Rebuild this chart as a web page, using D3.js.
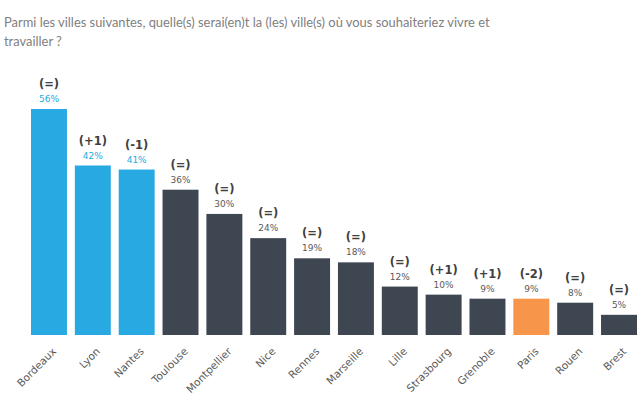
<!DOCTYPE html>
<meta charset="UTF-8">
<html>
<head>
<script src="https://d3js.org/d3.v7.min.js"></script>
<style>
body { margin: 0; background: #fff; }
.Title { fill: #808080; font: 12.9px Lato, sans-serif; }
.Change { fill: #404040; font: bold 11.5px "DejaVu Sans", sans-serif; }
.Pct { font: 9px "DejaVu Sans", sans-serif; }
.XLabel { fill: #595959; font: 10.5px "DejaVu Sans", sans-serif; }
</style>
</head>
<body>
<svg class="Chart"></svg>
<script>
var Cities = ["Bordeaux", "Lyon", "Nantes", "Toulouse", "Montpellier", "Nice", "Rennes", "Marseille", "Lille", "Strasbourg", "Grenoble", "Paris", "Rouen", "Brest"];
var Values = [56, 42, 41, 36, 30, 24, 19, 18, 12, 10, 9, 9, 8, 5];
var Changes = ["(=)", "(+1)", "(-1)", "(=)", "(=)", "(=)", "(=)", "(=)", "(=)", "(+1)", "(+1)", "(-2)", "(=)", "(=)"];
var Groups = ["top", "top", "top", "other", "other", "other", "other", "other", "other", "other", "other", "paris", "other", "other"];

var Width = 641, Height = 406;
var Base = 335;

var Svg = d3.select(".Chart").attr("width", Width).attr("height", Height);

Svg.append("text").attr("class", "Title").attr("x", 4).attr("y", 27)
	.text("Parmi les villes suivantes, quelle(s) serai(en)t la (les) ville(s) où vous souhaiteriez vivre et");
Svg.append("text").attr("class", "Title").attr("x", 4).attr("y", 46)
	.text("travailler ?");

var XScale = d3.scaleBand().domain(Cities).range([31, 637]).paddingInner(0.18).paddingOuter(0);
var YScale = d3.scaleLinear().domain([0, 56]).range([Base, 109]);
var BarColor = d3.scaleOrdinal().domain(["top", "other", "paris"]).range(["#29a9e1", "#3d4651", "#f7964a"]);
var PctColor = d3.scaleOrdinal().domain(["top", "other", "paris"]).range(["#29a9e1", "#595959", "#595959"]);

var Data = Cities.map(function(c, i) { return {City: c, Value: Values[i], Change: Changes[i], Group: Groups[i]}; });

var Bars = Svg.selectAll(".Bar").data(Data).enter().append("g").attr("class", "Bar");

Bars.append("rect")
	.attr("x", function(d) { return XScale(d.City); })
	.attr("y", function(d) { return YScale(d.Value); })
	.attr("width", XScale.bandwidth())
	.attr("height", function(d) { return Base - YScale(d.Value); })
	.attr("fill", function(d) { return BarColor(d.Group); });

Bars.append("text").attr("class", "Pct")
	.attr("x", function(d) { return XScale(d.City) + XScale.bandwidth() / 2; })
	.attr("y", function(d) { return YScale(d.Value) - 7; })
	.attr("text-anchor", "middle")
	.attr("fill", function(d) { return PctColor(d.Group); })
	.text(function(d) { return d.Value + "%"; });

Bars.append("text").attr("class", "Change")
	.attr("x", function(d) { return XScale(d.City) + XScale.bandwidth() / 2; })
	.attr("y", function(d) { return YScale(d.Value) - 21; })
	.attr("text-anchor", "middle")
	.text(function(d) { return d.Change; });

var XAxis = d3.axisBottom(XScale).tickSize(0).tickPadding(0);
var AxisG = Svg.append("g").attr("transform", "translate(0," + Base + ")").call(XAxis);
AxisG.select(".domain").remove();
AxisG.selectAll("text")
	.attr("class", "XLabel")
	.attr("fill", null)
	.attr("font-size", null).attr("font-family", null)
	.attr("y", 0).attr("dy", 0)
	.attr("text-anchor", "end")
	.attr("transform", "translate(8,17) rotate(-45)");
</script>
</body>
</html>
